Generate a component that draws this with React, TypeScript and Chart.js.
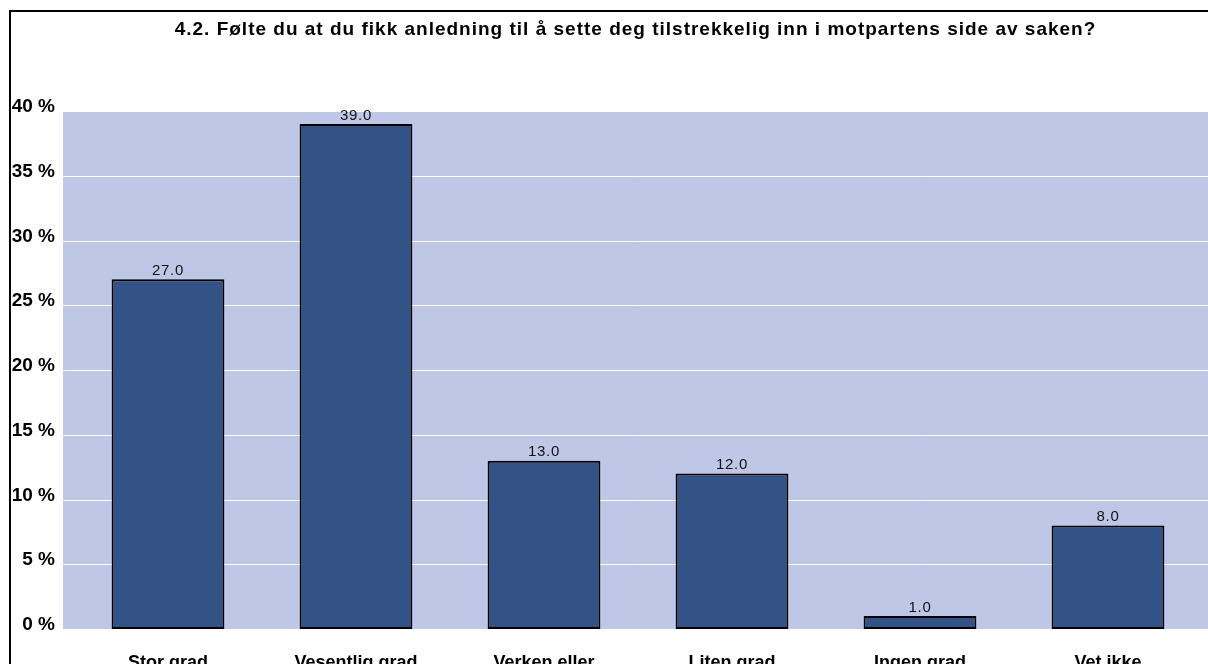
import React, { useEffect, useRef } from "react";
import { Chart, registerables } from "chart.js";

Chart.register(...registerables);

const TITLE = "4.2. Følte du at du fikk anledning til å sette deg tilstrekkelig inn i motpartens side av saken?";
const categories = ["Stor grad", "Vesentlig grad", "Verken eller", "Liten grad", "Ingen grad", "Vet ikke"];
const values = [27.0, 39.0, 13.0, 12.0, 1.0, 8.0];
const yTicks = [0, 5, 10, 15, 20, 25, 30, 35, 40];

const FONT = "'Liberation Sans', Arial, sans-serif";
const BG = "#BFC7E6";
const BAR = "#335285";

const decorPlugin = {
  id: "decor",
  beforeDraw(chart: any) {
    const ctx = chart.ctx;
    const { chartArea } = chart;
    const y = chart.scales.y;
    const left = chartArea.left - 11;
    const right = chart.width;
    ctx.save();
    ctx.fillStyle = "#ffffff";
    ctx.fillRect(0, 0, chart.width, chart.height);
    ctx.fillStyle = BG;
    ctx.fillRect(left, chartArea.top, right - left, chartArea.bottom - chartArea.top);
    ctx.strokeStyle = "#ffffff";
    ctx.lineWidth = 1;
    y.ticks.forEach((t: any) => {
      if (t.value === 0) return;
      const py = Math.round(y.getPixelForValue(t.value)) + 0.5;
      ctx.beginPath();
      ctx.moveTo(left, py);
      ctx.lineTo(right, py);
      ctx.stroke();
    });
    // frame
    ctx.fillStyle = "#000000";
    ctx.fillRect(9, 10, chart.width - 9, 2);
    ctx.fillRect(9, 10, 2, chart.height - 10);
    // title
    ctx.letterSpacing = "1px";
    ctx.font = `bold 19px ${FONT}`;
    ctx.textAlign = "center";
    ctx.textBaseline = "alphabetic";
    ctx.fillText(TITLE, (left + right) / 2, 35);
    ctx.restore();
  },
  afterDatasetsDraw(chart: any) {
    const ctx = chart.ctx;
    const meta = chart.getDatasetMeta(0);
    ctx.save();
    ctx.letterSpacing = "0.75px";
    ctx.font = `15px ${FONT}`;
    ctx.fillStyle = "#111111";
    ctx.textAlign = "center";
    ctx.textBaseline = "bottom";
    meta.data.forEach((el: any, i: number) => {
      ctx.fillText(values[i].toFixed(1), el.x, el.y - 1);
    });
    ctx.restore();
  },
};

export default function App() {
  const ref = useRef<HTMLCanvasElement>(null);
  useEffect(() => {
    const chart = new Chart(ref.current as HTMLCanvasElement, {
      type: "bar",
      data: {
        labels: categories,
        datasets: [
          {
            data: values,
            backgroundColor: BAR,
            borderColor: "#000000",
            borderWidth: 2,
            borderSkipped: false,
            barPercentage: 0.6,
            categoryPercentage: 1,
          },
        ],
      },
      options: {
        animation: false,
        responsive: false,
        maintainAspectRatio: false,
        layout: { padding: { left: 0, right: 6, top: 111, bottom: 0 } },
        plugins: { legend: { display: false }, tooltip: { enabled: false }, title: { display: false } },
        scales: {
          x: {
            grid: { display: false },
            border: { display: false },
            ticks: {
              color: "#000000",
              font: { family: FONT, size: 18, weight: "bold" },
              padding: 15,
              maxRotation: 0,
              autoSkip: false,
            },
            afterFit(scale: any) {
              scale.height = 35;
            },
          },
          y: {
            min: 0,
            max: 40,
            afterBuildTicks(scale: any) {
              scale.ticks = yTicks.map((v) => ({ value: v }));
            },
            grid: { display: false, drawTicks: false },
            border: { display: false },
            ticks: {
              color: "#000000",
              font: { family: FONT, size: 19, weight: "bold" },
              padding: 19,
              labelOffset: -4,
              callback: (v: any) => `${v} %`,
            },
            afterFit(scale: any) {
              scale.width = 74;
            },
          },
        },
      },
      plugins: [decorPlugin],
    } as any);
    return () => chart.destroy();
  }, []);
  return (
    <div style={{ position: "fixed", left: 0, top: 0, width: 1208, height: 664, overflow: "hidden" }}>
      <canvas ref={ref} width={1208} height={664} style={{ width: 1208, height: 664, display: "block" }} />
    </div>
  );
}
